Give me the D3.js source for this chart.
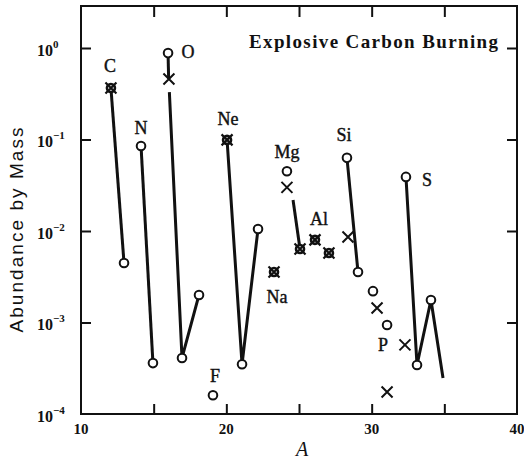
<!DOCTYPE html>
<html>
<head>
<meta charset="utf-8">
<script src="https://cdn.jsdelivr.net/npm/d3@7"></script>
<style>
  html, body { margin: 0; padding: 0; background: #fff; }
  svg { display: block; }
</style>
</head>
<body>
<script>
// ---------------- DATA ----------------
// open circles: [A, abundance]
const circlePoints = [
  [12.96, 0.00447], [14.13, 0.085], [14.95, 3.6e-4], [15.99, 0.88],
  [16.95, 4.1e-4], [18.12, 2.0e-3], [19.08, 1.6e-4], [21.08, 3.5e-4],
  [22.18, 0.0105], [24.17, 0.045], [28.3, 0.063], [29.06, 0.00356],
  [30.09, 0.0022], [31.06, 9.4e-4], [32.36, 0.039], [33.12, 3.43e-4],
  [34.08, 1.76e-3]
];
// crosses
const crossPoints = [
  [16.05, 0.458], [24.17, 0.030], [28.37, 0.0086], [30.37, 0.00144],
  [31.06, 1.74e-4], [32.29, 5.7e-4]
];
// circle + cross (both agree)
const bothPoints = [
  [12.06, 0.365], [20.05, 0.099], [23.28, 0.00356], [25.07, 0.00636],
  [26.1, 0.0080], [27.06, 0.00575]
];
// connecting lines
const lineSegments = [
  [[12.06, 0.365], [12.96, 0.00447]],
  [[14.13, 0.085], [14.95, 3.6e-4]],
  [[15.99, 0.88], [16.03, 0.458]],
  [[16.08, 0.33], [16.95, 4.1e-4], [18.12, 2.0e-3]],
  [[20.05, 0.099], [21.08, 3.5e-4], [22.18, 0.0105]],
  [[24.59, 0.0218], [25.07, 0.00636]],
  [[28.3, 0.063], [29.06, 0.00356]],
  [[32.36, 0.039], [33.12, 3.43e-4], [34.08, 1.76e-3], [34.91, 2.47e-4]]
];
// element labels
const elementNames = ["C", "N", "O", "Ne", "Mg", "Al", "Na", "F", "Si", "S", "P"];
const elementA     = [12.0, 14.13, 17.36, 20.11, 24.17, 26.37, 23.49, 19.22, 28.1, 33.81, 30.78];
const elementV     = [0.636, 0.134, 0.904, 0.168, 0.073, 0.0135, 0.0019, 2.6e-4, 0.112, 0.036, 5.7e-4];

const xTickLabels = [10, 20, 30, 40];
const xMinorTicks = [15, 20, 25, 30, 35];
const yTickExponents = [0, -1, -2, -3, -4];

const titleText = "Explosive Carbon Burning";
const yLabelText = "Abundance by Mass";
const xLabelText = "A";

// ---------------- CHART ----------------
const W = 524, H = 464;
const mLeft = 81, mRight = 517, mTop = 6, mBottom = 414;

const svg = d3.select("body").append("svg")
  .attr("width", W).attr("height", H);
svg.append("rect").attr("width", W).attr("height", H).attr("fill", "#fff");

const x = d3.scaleLinear().domain([10, 40]).range([mLeft, mRight]);
const y = d3.scaleLog().domain([1e-4, Math.pow(10, 0.459)]).range([mBottom, mTop]);

const serif = "'Liberation Serif', 'Times New Roman', serif";
const sans = "'Liberation Sans', Arial, sans-serif";

// frame
svg.append("rect")
  .attr("x", mLeft).attr("y", mTop)
  .attr("width", mRight - mLeft).attr("height", mBottom - mTop)
  .attr("fill", "none").attr("stroke", "#111").attr("stroke-width", 2);

// inward ticks via d3 axes
const yVals = yTickExponents.map(e => Math.pow(10, e)).filter(v => v > 1e-4);
svg.append("g").attr("transform", `translate(${mLeft},0)`)
  .call(d3.axisRight(y).tickValues(yVals).tickSize(10).tickFormat(""))
  .call(g => g.select(".domain").remove())
  .selectAll("line").attr("stroke", "#111").attr("stroke-width", 2);
svg.append("g").attr("transform", `translate(${mRight},0)`)
  .call(d3.axisLeft(y).tickValues(yVals).tickSize(10).tickFormat(""))
  .call(g => g.select(".domain").remove())
  .selectAll("line").attr("stroke", "#111").attr("stroke-width", 2);
svg.append("g").attr("transform", `translate(0,${mBottom})`)
  .call(d3.axisTop(x).tickValues(xMinorTicks).tickSize(10).tickFormat(""))
  .call(g => g.select(".domain").remove())
  .selectAll("line").attr("stroke", "#111").attr("stroke-width", 2);
svg.append("g").attr("transform", `translate(0,${mTop})`)
  .call(d3.axisBottom(x).tickValues(xMinorTicks).tickSize(11).tickFormat(""))
  .call(g => g.select(".domain").remove())
  .selectAll("line").attr("stroke", "#111").attr("stroke-width", 2);

// y tick labels: 10^n
yTickExponents.forEach(e => {
  const t = svg.append("text")
    .attr("x", 37).attr("y", y(Math.pow(10, e)) + 8)
    .attr("font-family", serif).attr("font-size", 16).attr("font-weight", "bold")
    .attr("fill", "#111");
  t.append("tspan").text("10");
  t.append("tspan").attr("dy", -8).attr("font-size", 11)
    .text(e === 0 ? "0" : "\u2212" + Math.abs(e));
});

// x tick labels
svg.append("g").selectAll("text").data(xTickLabels).join("text")
  .attr("x", d => x(d)).attr("y", 434)
  .attr("text-anchor", "middle")
  .attr("font-family", serif).attr("font-size", 15).attr("font-weight", "bold")
  .attr("fill", "#111")
  .text(d => d);

// axis titles
svg.append("text")
  .attr("transform", "translate(23,230) rotate(-90)")
  .attr("text-anchor", "middle")
  .attr("font-family", sans).attr("font-size", 19)
  .attr("textLength", 205).attr("lengthAdjust", "spacing")
  .attr("fill", "#111")
  .text(yLabelText);
svg.append("text")
  .attr("x", 302).attr("y", 456)
  .attr("text-anchor", "middle")
  .attr("font-family", serif).attr("font-size", 20).attr("font-style", "italic")
  .attr("fill", "#111")
  .text(xLabelText);

// title
svg.append("text")
  .attr("x", 249).attr("y", 48)
  .attr("font-family", serif).attr("font-size", 19).attr("font-weight", "bold")
  .attr("textLength", 249).attr("lengthAdjust", "spacing")
  .attr("fill", "#111")
  .text(titleText);

// lines
const line = d3.line().x(d => x(d[0])).y(d => y(d[1]));
svg.append("g").selectAll("path").data(lineSegments).join("path")
  .attr("d", line)
  .attr("fill", "none").attr("stroke", "#111")
  .attr("stroke-width", 3).attr("stroke-linecap", "butt");

// markers
const crossPath = (cx, cy, s) =>
  `M${cx - s},${cy - s}L${cx + s},${cy + s}M${cx - s},${cy + s}L${cx + s},${cy - s}`;

svg.append("g").selectAll("circle").data(circlePoints).join("circle")
  .attr("cx", d => x(d[0])).attr("cy", d => y(d[1])).attr("r", 4.3)
  .attr("fill", "#fff").attr("stroke", "#111").attr("stroke-width", 2);

svg.append("g").selectAll("path").data(crossPoints).join("path")
  .attr("d", d => crossPath(x(d[0]), y(d[1]), 5.5))
  .attr("fill", "none").attr("stroke", "#111").attr("stroke-width", 2);

const both = svg.append("g");
both.selectAll("circle").data(bothPoints).join("circle")
  .attr("cx", d => x(d[0])).attr("cy", d => y(d[1])).attr("r", 4)
  .attr("fill", "#fff").attr("stroke", "#111").attr("stroke-width", 2.6);
both.selectAll("path").data(bothPoints).join("path")
  .attr("d", d => crossPath(x(d[0]), y(d[1]), 5.5))
  .attr("fill", "none").attr("stroke", "#111").attr("stroke-width", 2.2);

// element labels
svg.append("g").selectAll("text").data(elementNames).join("text")
  .attr("x", (d, i) => x(elementA[i])).attr("y", (d, i) => y(elementV[i]))
  .attr("text-anchor", "middle").attr("dominant-baseline", "central")
  .attr("font-family", serif).attr("font-size", 18)
  .attr("fill", "#111").attr("stroke", "#111").attr("stroke-width", 0.4)
  .text(d => d);
</script>
</body>
</html>
